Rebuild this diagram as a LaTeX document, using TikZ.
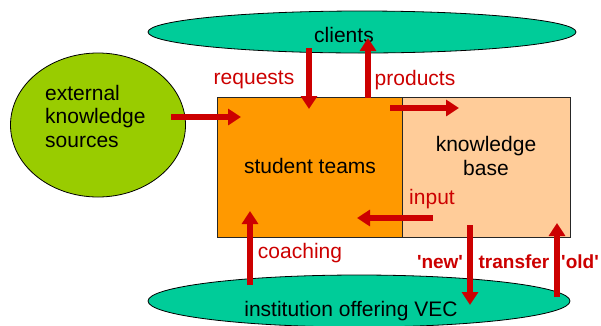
\documentclass[tikz,border=0pt]{standalone}
\usepackage{fontspec}
\setmainfont{Liberation Sans}
% same face without the TeX quote mapping, for straight apostrophes
\newfontfamily\straightsans{Liberation Sans}
\usetikzlibrary{arrows.meta,shapes.geometric}
\definecolor{extgreen}{HTML}{99CC00}
\definecolor{teal}{HTML}{00CC99}
\definecolor{teamorange}{HTML}{FF9900}
\definecolor{peach}{HTML}{FFCC99}
\definecolor{flowred}{HTML}{CC0000}
\tikzset{
  x=1pt, y=-1pt,
  every node/.style={font=\fontsize{21}{23.5}\selectfont, inner sep=0pt},
  oval/.style={ellipse, draw=black, line width=0.8pt, inner sep=0pt},
  part/.style={draw=black!85, line width=0.8pt, inner sep=0pt},
  flow/.style={draw=flowred, line width=6pt,
    -{Triangle[width=16pt,length=13pt]}, shorten >=-1pt},
  flowlabel/.style={text=flowred},
  boldlabel/.style={text=flowred, font=\straightsans\fontsize{19}{22}\selectfont\bfseries},
}
\begin{document}
\begin{tikzpicture}
\useasboundingbox (0,0) rectangle (601,325);
% actors
\node[oval, fill=teal, minimum width=428pt, minimum height=42pt] (clients) at (362,32) {};
\node at (344,35) (clientstext) {clients};
\node[oval, fill=extgreen, minimum width=175pt, minimum height=144pt] (ext) at (98,125) {};
\node[align=left, anchor=west] (exttext) at (45,116) {external\\knowledge\\sources};
\node[oval, fill=teal, minimum width=422pt, minimum height=52pt] (inst) at (359,301) {};
\node (insttext) at (351,311) {institution offering VEC};
% work areas
\node[part, fill=teamorange, minimum width=185pt, minimum height=140pt] (teams) at (309.5,167) {};
\node[part, fill=peach, minimum width=168pt, minimum height=140pt] (kb) at (486,167) {};
\node (teamstext) at (310,166) {student teams};
\node[align=center] (kbtext) at (486,156) {knowledge\\base};
% arrow end points
\coordinate (reqA) at (309,48);   \coordinate (reqB) at (309,108);
\coordinate (prodA) at (368,98);  \coordinate (prodB) at (368,39);
\coordinate (storeA) at (390,108); \coordinate (storeB) at (458,108);
\coordinate (extA) at (171,117);  \coordinate (extB) at (240,117);
\coordinate (inA) at (433,218);   \coordinate (inB) at (358,218);
\coordinate (coachA) at (250,285); \coordinate (coachB) at (250,212);
\coordinate (newA) at (470,225);  \coordinate (newB) at (470,304);
\coordinate (oldA) at (557,297);  \coordinate (oldB) at (557,224);
% flows
\draw[flow] (reqA) -- (reqB);
\draw[flow] (prodA) -- (prodB);
\draw[flow] (storeA) -- (storeB);
\draw[flow] (extA) -- (extB);
\draw[flow] (inA) -- (inB);
\draw[flow] (coachA) -- (coachB);
\draw[flow] (newA) -- (newB);
\draw[flow] (oldA) -- (oldB);
% flow labels
\node[flowlabel] (reqlabel) at (254,80) {requests};
\node[flowlabel] (prodlabel) at (415,80) {products};
\node[flowlabel] (inlabel) at (432,199) {input};
\node[flowlabel] (coachlabel) at (300,253) {coaching};
\node[boldlabel] (newlabel) at (440,262) {'new'};
\node[boldlabel] (translabel) at (514,262) {transfer};
\node[boldlabel] (oldlabel) at (580,262) {'old'};
\end{tikzpicture}
\end{document}
